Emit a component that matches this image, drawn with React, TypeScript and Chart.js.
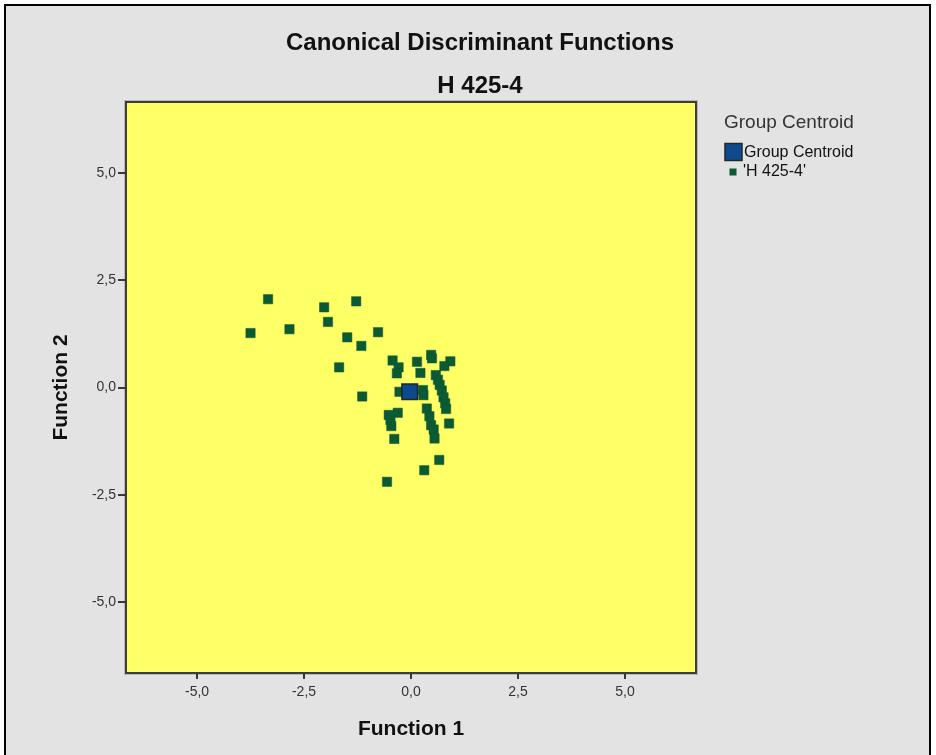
import { useEffect, useRef } from "react";
import { Chart, registerables } from "chart.js";

Chart.register(...registerables);

// Texts
const chartTitle = "Canonical Discriminant Functions";
const chartSubtitle = "H 425-4";
const legendTitle = "Group Centroid";
const centroidLabel = "Group Centroid";
const groupLabel = "'H 425-4'";
const xTitle = "Function 1";
const yTitle = "Function 2";

// Discriminant scores of the cases (Function 1, Function 2)
const function1 = [
  -3.34, -3.75, -2.84, -2.03, -1.28, -1.94, -1.49, -0.77, -1.16, -1.68, -1.14,
  0.66, 0.31, -0.56,
  -0.43, -0.29, -0.33, 0.14, 0.22, 0.47, 0.49, 0.92, 0.78, 0.58, 0.63, 0.67,
  0.72, 0.76, 0.8, 0.82, -0.27, 0.28, 0.29, -0.31, -0.52, -0.48, -0.46, -0.39,
  0.37, 0.43, 0.47, 0.53, 0.55, 0.89,
];
const function2 = [
  2.06, 1.27, 1.36, 1.87, 2.01, 1.53, 1.17, 1.29, 0.97, 0.47, -0.21,
  -1.69, -1.93, -2.2,
  0.63, 0.47, 0.33, 0.6, 0.34, 0.76, 0.68, 0.61, 0.5, 0.29, 0.18, 0.06,
  -0.07, -0.23, -0.37, -0.5, -0.1, -0.06, -0.18, -0.59, -0.64, -0.76, -0.9, -1.2,
  -0.49, -0.67, -0.88, -0.98, -1.19, -0.84,
];

// Group centroid
const centroidF1 = [-0.03];
const centroidF2 = [-0.1];

// Axes
const axisMin = -6.66;
const axisMax = 6.66;
const tickValues = [-5, -2.5, 0, 2.5, 5];
const tickLabels = ["-5,0", "-2,5", "0,0", "2,5", "5,0"];

const FONT = "'Liberation Sans', Arial, sans-serif";
const PLOT_FILL = "#ffff66";
const PAGE_FILL = "#e3e3e3";
const GROUP_COLOR = "#0c5a33";
const CENTROID_COLOR = "#0c4a8c";
const CENTROID_EDGE = "#1e2630";

const decorPlugin = {
  id: "spssDecor",
  beforeDatasetsDraw(chart: any) {
    const { ctx, chartArea: a } = chart;
    ctx.save();
    ctx.fillStyle = PLOT_FILL;
    ctx.fillRect(a.left, a.top, a.right - a.left, a.bottom - a.top);
    ctx.restore();
  },
  afterDraw(chart: any) {
    const { ctx, chartArea: a } = chart;
    ctx.save();
    // plot frame with a faint outer shadow
    ctx.strokeStyle = "rgba(0,0,0,0.18)";
    ctx.lineWidth = 1;
    ctx.strokeRect(a.left - 1.5, a.top - 1.5, a.right - a.left + 3, a.bottom - a.top + 3);
    ctx.strokeStyle = "#3c3c3c";
    ctx.lineWidth = 2;
    ctx.strokeRect(a.left, a.top, a.right - a.left, a.bottom - a.top);

    // titles
    ctx.fillStyle = "#111";
    ctx.textAlign = "center";
    ctx.textBaseline = "middle";
    ctx.font = `bold 24px ${FONT}`;
    ctx.fillText(chartTitle, 480, 43);
    ctx.fillText(chartSubtitle, 480, 86);

    // legend
    ctx.textAlign = "left";
    ctx.fillStyle = "#333";
    ctx.font = `19px ${FONT}`;
    ctx.fillText(legendTitle, 724, 123);

    ctx.fillStyle = CENTROID_COLOR;
    ctx.fillRect(725, 143.5, 17, 17);
    ctx.strokeStyle = CENTROID_EDGE;
    ctx.lineWidth = 1.5;
    ctx.strokeRect(725, 143.5, 17, 17);
    ctx.fillStyle = GROUP_COLOR;
    ctx.fillRect(729.5, 168.5, 7, 7);

    ctx.fillStyle = "#111";
    ctx.font = `16px ${FONT}`;
    ctx.fillText(centroidLabel, 744, 153);
    ctx.fillText(groupLabel, 743, 172);
    ctx.restore();
  },
};

export default function App() {
  const canvasRef = useRef<HTMLCanvasElement | null>(null);

  useEffect(() => {
    if (!canvasRef.current) return;
    const chart = new Chart(canvasRef.current, {
      type: "scatter",
      data: {
        datasets: [
          {
            label: centroidLabel,
            data: centroidF1.map((x, i) => ({ x, y: centroidF2[i] })),
            pointStyle: "rect",
            pointRadius: 11,
            pointHoverRadius: 11,
            backgroundColor: CENTROID_COLOR,
            borderColor: CENTROID_EDGE,
            borderWidth: 1.5,
          },
          {
            label: groupLabel,
            data: function1.map((x, i) => ({ x, y: function2[i] })),
            pointStyle: "rect",
            pointRadius: 6.6,
            pointHoverRadius: 6.6,
            backgroundColor: GROUP_COLOR,
            borderColor: GROUP_COLOR,
            borderWidth: 0.5,
          },
        ],
      },
      options: {
        animation: false,
        responsive: false,
        devicePixelRatio: 1,
        layout: { padding: { left: 0, top: 102, right: 240, bottom: 0 } },
        plugins: {
          legend: { display: false },
          tooltip: { enabled: false },
          title: { display: false },
        },
        scales: {
          x: {
            type: "linear",
            min: axisMin,
            max: axisMax,
            afterBuildTicks: (s: any) => {
              s.ticks = tickValues.map((v) => ({ value: v }));
            },
            afterFit: (s: any) => {
              s.height = 82;
            },
            border: { display: false },
            grid: {
              drawOnChartArea: false,
              drawTicks: true,
              tickLength: 6,
              color: "#3a3a3a",
              lineWidth: 2,
            },
            ticks: {
              callback: (_v: any, i: number) => tickLabels[i],
              font: { family: FONT, size: 14 },
              color: "#333",
              padding: 5,
              maxRotation: 0,
              autoSkip: false,
            },
            title: {
              display: true,
              text: xTitle,
              font: { family: FONT, size: 21, weight: "bold" },
              color: "#111",
              padding: { top: 0, bottom: 13 },
            },
          },
          y: {
            type: "linear",
            min: axisMin,
            max: axisMax,
            afterBuildTicks: (s: any) => {
              s.ticks = tickValues.map((v) => ({ value: v }));
            },
            afterFit: (s: any) => {
              s.width = 126;
            },
            border: { display: false },
            grid: {
              drawOnChartArea: false,
              drawTicks: true,
              tickLength: 8,
              color: "#3a3a3a",
              lineWidth: 2,
            },
            ticks: {
              callback: (_v: any, i: number) => tickLabels[i],
              font: { family: FONT, size: 14 },
              color: "#333",
              padding: 2,
              autoSkip: false,
            },
            title: {
              display: true,
              text: yTitle,
              font: { family: FONT, size: 21, weight: "bold" },
              color: "#111",
              padding: { top: 49, bottom: 0 },
            },
          },
        },
      },
      plugins: [decorPlugin],
    });
    return () => chart.destroy();
  }, []);

  return (
    <div
      style={{
        position: "fixed",
        left: 0,
        top: 0,
        width: 936,
        height: 755,
        background: "#ffffff",
        overflow: "hidden",
      }}
    >
      <div
        style={{
          position: "absolute",
          left: 4,
          top: 4,
          width: 923,
          height: 760,
          borderLeft: "2px solid #000",
          borderTop: "2px solid #000",
          borderRight: "2px solid #000",
          background: PAGE_FILL,
        }}
      />
      <canvas
        ref={canvasRef}
        width={936}
        height={755}
        style={{ position: "absolute", left: 0, top: 0, width: 936, height: 755 }}
      />
    </div>
  );
}
